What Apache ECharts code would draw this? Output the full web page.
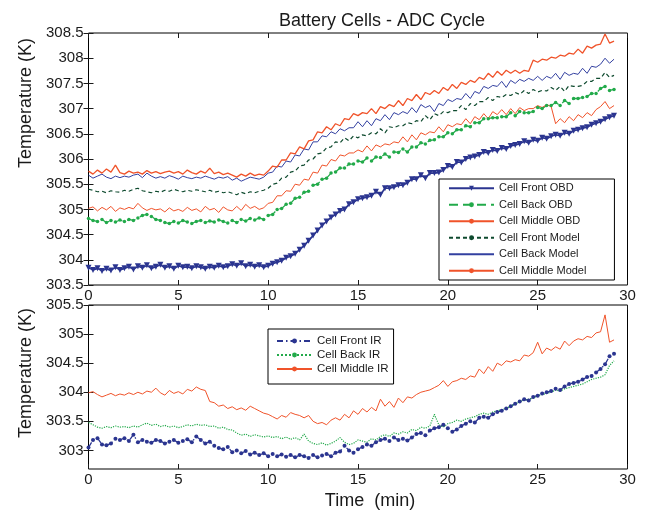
<!DOCTYPE html>
<html>
<head>
<meta charset="utf-8">
<title>Battery Cells - ADC Cycle</title>
<script src="https://cdn.jsdelivr.net/npm/echarts@6.0.0/dist/echarts.min.js"></script>
<style>
  html, body { margin: 0; padding: 0; background: #fff; }
  #chart { width: 649px; height: 512px; }
</style>
</head>
<body>
<div id="chart"></div>
<script>
// sample spacing of the readings, minutes
const STEP = 0.25

const xTicks = [0, 5, 10, 15, 20, 25, 30]
const topYTicks = [303.5, 304, 304.5, 305, 305.5, 306, 306.5, 307, 307.5, 308, 308.5]
const bottomYTicks = [303, 303.5, 304, 304.5, 305, 305.5]

const topNames = ['Cell Front OBD', 'Cell Back OBD', 'Cell Middle OBD', 'Cell Front Model', 'Cell Back Model', 'Cell Middle Model']
const bottomNames = ['Cell Front IR', 'Cell Back IR', 'Cell Middle IR']

// top panel (K)
const cellFrontOBD = [
  303.84, 303.80, 303.83, 303.78, 303.82, 303.79, 303.85, 303.80,
  303.83, 303.86, 303.81, 303.87, 303.84, 303.89, 303.83, 303.86,
  303.90, 303.84, 303.87, 303.82, 303.88, 303.85, 303.86, 303.83,
  303.87, 303.85, 303.82, 303.86, 303.84, 303.88, 303.85, 303.87,
  303.91, 303.88, 303.93, 303.87, 303.90, 303.86, 303.89, 303.85,
  303.88, 303.92, 303.95, 303.98, 304.04, 304.07, 304.12, 304.20,
  304.28, 304.38, 304.48, 304.58, 304.68, 304.76, 304.84, 304.90,
  304.97, 305.00, 305.10, 305.14, 305.20, 305.22, 305.24, 305.27,
  305.35, 305.29, 305.42, 305.42, 305.44, 305.48, 305.48, 305.53,
  305.60, 305.60, 305.68, 305.62, 305.72, 305.72, 305.73, 305.78,
  305.86, 305.84, 305.94, 305.93, 306.00, 306.03, 306.05, 306.08,
  306.14, 306.12, 306.18, 306.16, 306.22, 306.20, 306.26, 306.28,
  306.30, 306.35, 306.32, 306.38, 306.36, 306.42, 306.40, 306.45,
  306.48, 306.46, 306.52, 306.50, 306.56, 306.58, 306.61, 306.63,
  306.68, 306.71, 306.74, 306.79, 306.83, 306.86
]
const cellBackOBD = [
  304.82, 304.78, 304.76, 304.80, 304.74, 304.78, 304.75, 304.79,
  304.76, 304.80, 304.78, 304.83, 304.88, 304.90, 304.86, 304.80,
  304.78, 304.74, 304.72, 304.76, 304.73, 304.78, 304.75, 304.72,
  304.76, 304.78, 304.74, 304.77, 304.75, 304.79, 304.76, 304.73,
  304.78, 304.74, 304.80, 304.77, 304.82, 304.79, 304.83, 304.80,
  304.88, 304.90, 305.00, 305.02, 305.10, 305.12, 305.22, 305.24,
  305.34, 305.36, 305.48, 305.50, 305.60, 305.62, 305.72, 305.74,
  305.82, 305.82, 305.90, 305.90, 305.96, 305.94, 306.02, 305.96,
  306.04, 306.03, 306.10, 306.04, 306.14, 306.13, 306.20, 306.14,
  306.24, 306.24, 306.32, 306.30, 306.37, 306.38, 306.44, 306.44,
  306.52, 306.50, 306.58, 306.58, 306.66, 306.64, 306.72, 306.72,
  306.80, 306.80, 306.82, 306.82, 306.84, 306.84, 306.92, 306.86,
  306.94, 306.92, 306.92, 306.94, 307.02, 307.00, 307.06, 307.06,
  307.12, 307.06, 307.16, 307.10, 307.20, 307.20, 307.22, 307.24,
  307.30, 307.30, 307.40, 307.44, 307.36, 307.38
]
const cellMiddleOBD = [
  305.02, 305.05, 304.97, 305.04, 304.99, 305.06, 304.96, 305.03,
  305.00, 305.04, 305.01, 305.12, 305.03, 304.98, 305.02, 304.99,
  305.01, 304.95, 305.03, 304.97, 305.00, 304.96, 305.04, 304.98,
  305.01, 304.95, 305.06, 304.99, 305.02, 304.94, 305.05, 304.99,
  304.97, 305.06, 304.98, 305.10, 305.02, 305.06, 305.00, 305.03,
  305.12, 305.14, 305.27, 305.27, 305.37, 305.36, 305.50, 305.48,
  305.60, 305.58, 305.74, 305.72, 305.88, 305.86, 305.99, 305.96,
  306.08, 306.06, 306.12, 306.12, 306.18, 306.14, 306.26, 306.16,
  306.28, 306.24, 306.30, 306.28, 306.34, 306.32, 306.44, 306.34,
  306.48, 306.38, 306.52, 306.48, 306.54, 306.52, 306.64, 306.54,
  306.68, 306.64, 306.70, 306.68, 306.80, 306.70, 306.84, 306.78,
  306.90, 306.80, 306.94, 306.88, 306.98, 306.88, 307.00, 306.90,
  307.02, 306.96, 307.00, 307.00, 307.06, 307.02, 307.08, 307.04,
  306.70, 306.80, 306.72, 306.84, 306.76, 306.88, 306.82, 306.92,
  306.86, 306.98, 307.04, 307.14, 307.00, 307.06
]
const cellFrontModel = [
  305.40, 305.38, 305.35, 305.36, 305.33, 305.37, 305.35, 305.34,
  305.38, 305.36, 305.40, 305.42, 305.37, 305.35, 305.33, 305.36,
  305.34, 305.38, 305.36, 305.40, 305.37, 305.35, 305.38, 305.36,
  305.39, 305.37, 305.35, 305.38, 305.34, 305.36, 305.33, 305.35,
  305.32, 305.29, 305.34, 305.31, 305.35, 305.33, 305.36, 305.38,
  305.42, 305.50, 305.52, 305.62, 305.64, 305.74, 305.76, 305.86,
  305.88, 305.98, 306.00, 306.10, 306.12, 306.22, 306.24, 306.34,
  306.32, 306.42, 306.36, 306.46, 306.42, 306.48, 306.46, 306.52,
  306.50, 306.60, 306.52, 306.64, 306.62, 306.66, 306.66, 306.72,
  306.70, 306.76, 306.74, 306.86, 306.78, 306.90, 306.86, 306.94,
  306.92, 306.96, 306.96, 307.06, 306.98, 307.10, 307.06, 307.14,
  307.14, 307.22, 307.16, 307.24, 307.22, 307.28, 307.26, 307.32,
  307.28, 307.36, 307.30, 307.38, 307.33, 307.36, 307.35, 307.42,
  307.36, 307.44, 307.34, 307.46, 307.44, 307.44, 307.46, 307.54,
  307.54, 307.60, 307.60, 307.72, 307.62, 307.66
]
const cellBackModel = [
  305.68, 305.62, 305.66, 305.70, 305.64, 305.61, 305.66, 305.63,
  305.66, 305.64, 305.68, 305.70, 305.63, 305.72, 305.66, 305.62,
  305.65, 305.62, 305.67, 305.64, 305.60, 305.66, 305.63, 305.61,
  305.64, 305.62, 305.66, 305.63, 305.60, 305.64, 305.62, 305.65,
  305.58, 305.62, 305.56, 305.60, 305.64, 305.62, 305.60, 305.64,
  305.72, 305.74, 305.86, 305.84, 305.96, 305.94, 306.08, 306.06,
  306.20, 306.18, 306.34, 306.34, 306.46, 306.44, 306.54, 306.50,
  306.60, 306.56, 306.62, 306.62, 306.74, 306.64, 306.76, 306.66,
  306.80, 306.76, 306.88, 306.78, 306.92, 306.88, 306.94, 306.90,
  307.02, 306.92, 307.08, 307.02, 307.06, 306.94, 307.10, 307.06,
  307.18, 307.14, 307.20, 307.18, 307.30, 307.20, 307.34, 307.30,
  307.44, 307.40, 307.46, 307.44, 307.54, 307.42, 307.56, 307.50,
  307.58, 307.54, 307.60, 307.56, 307.64, 307.56, 307.64, 307.60,
  307.70, 307.58, 307.72, 307.66, 307.70, 307.68, 307.80, 307.70,
  307.84, 307.82, 307.88, 308.00, 307.90, 307.98
]
const cellMiddleModel = [
  305.76, 305.70, 305.78, 305.72, 305.80, 305.74, 305.88, 305.73,
  305.70, 305.76, 305.72, 305.74, 305.70, 305.77, 305.72, 305.75,
  305.71, 305.74, 305.76, 305.72, 305.75, 305.70, 305.78, 305.73,
  305.70, 305.76, 305.72, 305.82, 305.71, 305.74, 305.69, 305.72,
  305.68, 305.64, 305.70, 305.66, 305.72, 305.67, 305.70, 305.68,
  305.76, 305.86, 305.84, 305.98, 305.98, 306.12, 306.10, 306.24,
  306.20, 306.36, 306.38, 306.54, 306.52, 306.64, 306.58, 306.70,
  306.66, 306.80, 306.78, 306.90, 306.86, 306.92, 306.90, 307.00,
  306.90, 307.04, 307.00, 307.08, 307.04, 307.16, 307.06, 307.20,
  307.16, 307.28, 307.18, 307.32, 307.28, 307.36, 307.30, 307.42,
  307.36, 307.48, 307.40, 307.52, 307.48, 307.56, 307.52, 307.62,
  307.58, 307.70, 307.62, 307.74, 307.66, 307.76, 307.70, 307.76,
  307.70, 307.76, 307.74, 307.96, 307.92, 307.98, 307.96, 308.02,
  308.00, 308.06, 308.04, 308.10, 308.08, 308.18, 308.10, 308.24,
  308.20, 308.26, 308.28, 308.48, 308.30, 308.34
]

// bottom panel (K)
const cellFrontIR = [
  303.05, 303.18, 303.21, 303.10, 303.09, 303.12, 303.20, 303.18,
  303.21, 303.16, 303.27, 303.14, 303.18, 303.15, 303.13, 303.18,
  303.16, 303.12, 303.15, 303.18, 303.13, 303.16, 303.19, 303.14,
  303.24, 303.18, 303.12, 303.15, 303.08, 303.04, 303.02, 303.06,
  302.97, 303.00, 302.95, 302.99, 302.93, 302.96, 302.92, 302.95,
  302.90, 302.94, 302.90, 302.93, 302.89, 302.92, 302.88, 302.92,
  302.90, 302.87, 302.92, 302.88, 302.91, 302.94, 302.90, 302.96,
  302.98, 303.08, 303.00, 302.96, 303.02, 303.06, 303.10, 303.08,
  303.14, 303.18, 303.20, 303.16, 303.22, 303.18, 303.20, 303.17,
  303.22, 303.28, 303.30, 303.26, 303.34, 303.38, 303.40, 303.44,
  303.38, 303.32, 303.36, 303.42, 303.46, 303.50, 303.48, 303.56,
  303.58, 303.56, 303.62, 303.66, 303.68, 303.72, 303.76, 303.80,
  303.84, 303.88, 303.86, 303.92, 303.94, 303.98, 304.00, 304.02,
  304.06, 304.04, 304.10, 304.14, 304.16, 304.18, 304.22, 304.26,
  304.28, 304.34, 304.40, 304.48, 304.62, 304.66
]
const cellBackIR = [
  303.48, 303.44, 303.40, 303.38, 303.41, 303.39, 303.42, 303.40,
  303.41, 303.39, 303.42, 303.40, 303.44, 303.47, 303.43, 303.45,
  303.41, 303.43, 303.40, 303.42, 303.39, 303.41, 303.44, 303.42,
  303.45, 303.43, 303.44, 303.41, 303.42, 303.38, 303.40, 303.36,
  303.35, 303.30, 303.26, 303.28, 303.24, 303.27, 303.25, 303.23,
  303.25, 303.22, 303.24, 303.20, 303.23, 303.19, 303.22, 303.18,
  303.28, 303.16, 303.12, 303.10, 303.13, 303.09, 303.12, 303.16,
  303.22, 303.14, 303.10, 303.12, 303.18, 303.16, 303.14, 303.20,
  303.18, 303.24, 303.27, 303.24, 303.30, 303.28, 303.32, 303.30,
  303.36, 303.34, 303.40, 303.38, 303.42, 303.62, 303.44, 303.40,
  303.46, 303.48, 303.52, 303.50, 303.54, 303.56, 303.58, 303.62,
  303.64, 303.62, 303.66, 303.68, 303.70, 303.72, 303.76, 303.80,
  303.84, 303.86, 303.88, 303.90, 303.94, 303.96, 303.98, 304.00,
  304.04, 304.02, 304.06, 304.08, 304.10, 304.12, 304.14, 304.18,
  304.22, 304.24, 304.26, 304.30, 304.46, 304.54
]
const cellMiddleIR = [
  303.99, 304.01, 303.96, 303.92, 303.95, 303.98, 303.94, 303.97,
  303.95, 303.99, 303.96, 304.00, 303.97, 304.02, 304.00, 304.07,
  303.99, 303.95, 304.03, 303.98, 304.01, 303.97, 304.05, 304.02,
  304.09, 304.05, 304.03, 303.84, 303.82, 303.76, 303.78, 303.72,
  303.75, 303.70, 303.73, 303.69, 303.76, 303.72, 303.68, 303.64,
  303.62, 303.58, 303.54, 303.60, 303.57, 303.65, 303.62, 303.60,
  303.56, 303.60, 303.50, 303.46, 303.48, 303.44, 303.52, 303.56,
  303.52, 303.62, 303.56, 303.68, 303.62, 303.72, 303.66, 303.74,
  303.68, 303.88, 303.76, 303.84, 303.74, 303.90, 303.82, 303.92,
  303.90, 303.96, 304.00, 304.02, 304.04, 304.08, 304.12, 304.20,
  304.10, 304.18, 304.20, 304.24, 304.22, 304.28, 304.26, 304.40,
  304.32, 304.44, 304.36, 304.50, 304.46, 304.54, 304.52, 304.56,
  304.54, 304.64, 304.62, 304.68, 304.86, 304.66, 304.76, 304.72,
  304.78, 304.74, 304.88, 304.80, 304.88, 304.92, 304.90, 304.96,
  304.94, 305.02, 305.04, 305.33, 304.86, 304.90
]

const FONT = "'Liberation Sans', Arial, Helvetica, sans-serif"
const INK = '#1a1a1a'
const DARK_BLUE = '#2b3590'
const GREEN = '#22aa4a'
const ORANGE = '#f0532a'
const DARK_GREEN = '#0e4a2e'
const BLUE = '#3340a0'

const withTime = vals => vals.map((v, i) => [i * STEP, v])

function xAxisFor(gridIndex, position, labels) {
  return {
    gridIndex, type: 'value', position, min: 0, max: 30,
    axisLine: { show: false },
    axisTick: { inside: true, length: 5, customValues: xTicks, lineStyle: { color: INK } },
    axisLabel: { show: labels, customValues: xTicks, color: INK, fontSize: 15, fontFamily: FONT, margin: 3 },
    splitLine: { show: false }
  }
}

function yAxisFor(gridIndex, position, labels, min, max, ticks) {
  return {
    gridIndex, type: 'value', position, min, max,
    axisLine: { show: false },
    axisTick: { inside: true, length: 5, customValues: ticks, lineStyle: { color: INK } },
    axisLabel: { show: labels, customValues: ticks, color: INK, fontSize: 15, fontFamily: FONT, margin: 5 },
    splitLine: { show: false }
  }
}

function lineSeries(name, vals, axis, color, extra) {
  return Object.assign({
    name, type: 'line', xAxisIndex: axis, yAxisIndex: axis,
    data: withTime(vals), color,
    symbol: 'circle', showSymbol: false,
    lineStyle: { width: 1, color },
    itemStyle: { color },
    animation: false, silent: true
  }, extra)
}

const chart = echarts.init(document.getElementById('chart'))

chart.setOption({
  backgroundColor: '#fff',
  animation: false,
  grid: [
    { left: 88.5, right: 21.5, top: 33, height: 252, show: true, borderColor: '#000', borderWidth: 1 },
    { left: 88.5, right: 21.5, top: 305, height: 164, show: true, borderColor: '#000', borderWidth: 1 }
  ],
  xAxis: [
    xAxisFor(0, 'bottom', true),
    xAxisFor(0, 'top', false),
    xAxisFor(1, 'bottom', true),
    xAxisFor(1, 'top', false)
  ],
  yAxis: [
    yAxisFor(0, 'left', true, 303.5, 308.5, topYTicks),
    yAxisFor(0, 'right', false, 303.5, 308.5, topYTicks),
    yAxisFor(1, 'left', true, 302.68, 305.5, bottomYTicks),
    yAxisFor(1, 'right', false, 302.68, 305.5, bottomYTicks)
  ],
  legend: [
    {
      data: [
        topNames[0], topNames[1], topNames[2], topNames[3],
        { name: topNames[4], itemStyle: { opacity: 0 } },
        topNames[5]
      ],
      orient: 'vertical', left: 439, top: 179,
      itemWidth: 45, itemHeight: 6, itemGap: 0,
      padding: [1, 28, 1, 9],
      backgroundColor: '#fff', borderColor: '#000', borderWidth: 1, borderRadius: 0,
      textStyle: { fontSize: 11, lineHeight: 16.5, color: INK, fontFamily: FONT },
      selectedMode: false
    },
    {
      data: bottomNames,
      orient: 'vertical', left: 268, top: 329,
      itemWidth: 35, itemHeight: 6, itemGap: 0,
      padding: [5, 5, 8, 8],
      backgroundColor: '#fff', borderColor: '#000', borderWidth: 1, borderRadius: 0,
      textStyle: { fontSize: 11.5, lineHeight: 14, color: INK, fontFamily: FONT },
      selectedMode: false
    }
  ],
  series: [
    lineSeries(topNames[0], cellFrontOBD, 0, DARK_BLUE, {
      symbol: 'triangle', symbolRotate: 180, symbolSize: 6, showSymbol: true, showAllSymbol: true,
      lineStyle: { width: 1.6, color: DARK_BLUE }
    }),
    lineSeries(topNames[1], cellBackOBD, 0, GREEN, {
      symbolSize: 3.5, showSymbol: true, showAllSymbol: true,
      lineStyle: { width: 1.3, color: GREEN, type: [9, 5] }
    }),
    lineSeries(topNames[2], cellMiddleOBD, 0, ORANGE),
    lineSeries(topNames[3], cellFrontModel, 0, DARK_GREEN, {
      lineStyle: { width: 1.2, color: DARK_GREEN, type: [4, 3] }
    }),
    lineSeries(topNames[4], cellBackModel, 0, BLUE, { symbol: 'none' }),
    lineSeries(topNames[5], cellMiddleModel, 0, ORANGE, {
      lineStyle: { width: 1.3, color: ORANGE }
    }),
    lineSeries(bottomNames[0], cellFrontIR, 2, DARK_BLUE, {
      symbolSize: 4, showSymbol: true, showAllSymbol: true,
      lineStyle: { width: 1.3, color: DARK_BLUE, type: [6, 3, 1.5, 3] }
    }),
    lineSeries(bottomNames[1], cellBackIR, 2, GREEN, {
      lineStyle: { width: 1.2, color: GREEN, type: 'dotted' }
    }),
    lineSeries(bottomNames[2], cellMiddleIR, 2, ORANGE)
  ],
  graphic: [
    {
      type: 'text', x: 382, y: 21,
      style: { text: 'Battery Cells - ADC Cycle', fill: INK, font: '18px ' + FONT, textAlign: 'center', textVerticalAlign: 'middle' }
    },
    {
      type: 'text', x: 26, y: 103, rotation: Math.PI / 2,
      style: { text: 'Temperature (K)', fill: INK, font: '18px ' + FONT, textAlign: 'center', textVerticalAlign: 'middle' }
    },
    {
      type: 'text', x: 26, y: 373, rotation: Math.PI / 2,
      style: { text: 'Temperature (K)', fill: INK, font: '18px ' + FONT, textAlign: 'center', textVerticalAlign: 'middle' }
    },
    {
      type: 'text', x: 370, y: 501,
      style: { text: 'Time  (min)', fill: INK, font: '18px ' + FONT, textAlign: 'center', textVerticalAlign: 'middle' }
    }
  ]
})
</script>
</body>
</html>
